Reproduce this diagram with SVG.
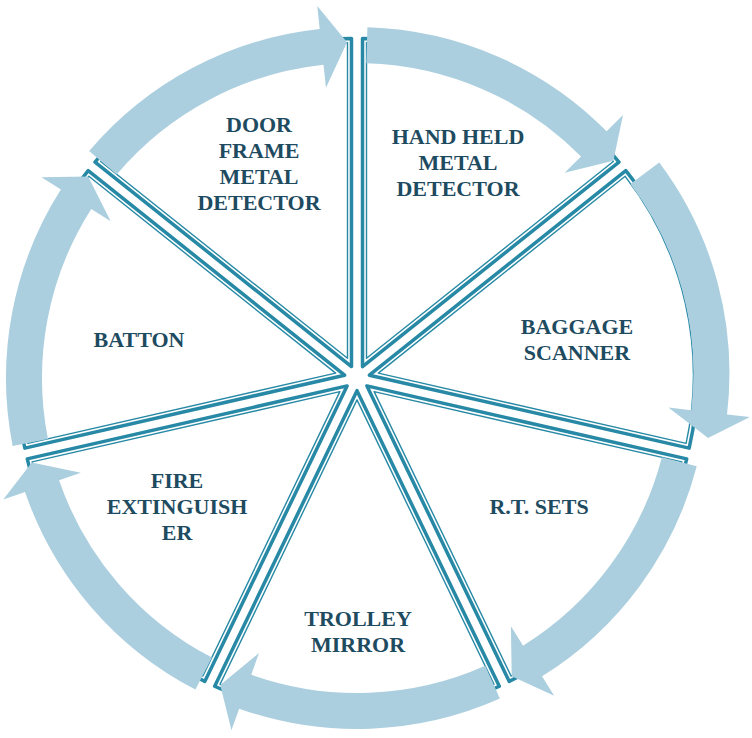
<svg xmlns="http://www.w3.org/2000/svg" width="752" height="738" viewBox="0 0 752 738">
<style>
.slice{fill:#ffffff;stroke:#2789a5;stroke-width:3.5;stroke-linejoin:round}
.inner{fill:none;stroke:#2789a5;stroke-width:1.4;stroke-linejoin:round}
.arrow{fill:#abcfdf}
text{font-family:"Liberation Serif","Times New Roman",serif;font-weight:bold;font-size:22px;fill:#1e4b5f;text-anchor:middle}
</style>
<defs>
<path id="wedge" d="M5.51,-11.44 L5.51,-339.44 A328,328 0 0 1 261.95,-215.95 Z"/>
<path id="wedgeIn" d="M9.51,-19.75 L9.51,-335.41 A324,324 0 0 1 256.32,-216.56 Z"/>
<path id="arc" d="M10.41,-350.85 A351,351 0 0 1 249.62,-246.77 L265.98,-262.94 L256.37,-217.19 L207.66,-205.29 L224.02,-221.46 A315,315 0 0 0 9.35,-314.86 Z"/>
</defs>
<rect width="752" height="738" fill="#ffffff"/>
<g id="hand-held">
<use href="#wedge" class="slice" transform="translate(357,378)"/>
<use href="#wedgeIn" class="inner" transform="translate(357,378)"/>
<text x="458" y="144">HAND HELD</text>
<text x="458" y="170">METAL</text>
<text x="458" y="196">DETECTOR</text>
</g>
<g id="baggage-scanner">
<use href="#wedge" class="slice" transform="translate(357,378) rotate(51.4286)"/>
<use href="#wedgeIn" class="inner" transform="translate(357,378) rotate(51.4286)"/>
<text x="577" y="334">BAGGAGE</text>
<text x="577" y="360">SCANNER</text>
</g>
<g id="rt-sets">
<use href="#wedge" class="slice" transform="translate(357,378) rotate(102.857)"/>
<use href="#wedgeIn" class="inner" transform="translate(357,378) rotate(102.857)"/>
<text x="539" y="514">R.T. SETS</text>
</g>
<g id="trolley-mirror">
<use href="#wedge" class="slice" transform="translate(357,378) rotate(154.286)"/>
<use href="#wedgeIn" class="inner" transform="translate(357,378) rotate(154.286)"/>
<text x="358" y="626">TROLLEY</text>
<text x="358" y="652">MIRROR</text>
</g>
<g id="fire-extinguisher">
<use href="#wedge" class="slice" transform="translate(357,378) rotate(205.714)"/>
<use href="#wedgeIn" class="inner" transform="translate(357,378) rotate(205.714)"/>
<text x="177" y="488">FIRE</text>
<text x="177" y="514">EXTINGUISH</text>
<text x="177" y="540">ER</text>
</g>
<g id="batton">
<use href="#wedge" class="slice" transform="translate(357,378) rotate(257.143)"/>
<use href="#wedgeIn" class="inner" transform="translate(357,378) rotate(257.143)"/>
<text x="139" y="347">BATTON</text>
</g>
<g id="door-frame">
<use href="#wedge" class="slice" transform="translate(357,378) rotate(308.571)"/>
<use href="#wedgeIn" class="inner" transform="translate(357,378) rotate(308.571)"/>
<text x="259" y="132">DOOR</text>
<text x="259" y="158">FRAME</text>
<text x="259" y="184">METAL</text>
<text x="259" y="210">DETECTOR</text>
</g>
<g id="connectors" transform="translate(357,378)">
<use href="#arc" class="arrow"/>
<use href="#arc" class="arrow" transform="translate(21.45,-4.90) rotate(51.4286)"/>
<use href="#arc" class="arrow" transform="rotate(102.857)"/>
<use href="#arc" class="arrow" transform="rotate(154.286)"/>
<use href="#arc" class="arrow" transform="rotate(205.714)"/>
<use href="#arc" class="arrow" transform="rotate(257.143)"/>
<use href="#arc" class="arrow" transform="rotate(308.571)"/>
</g>
</svg>
